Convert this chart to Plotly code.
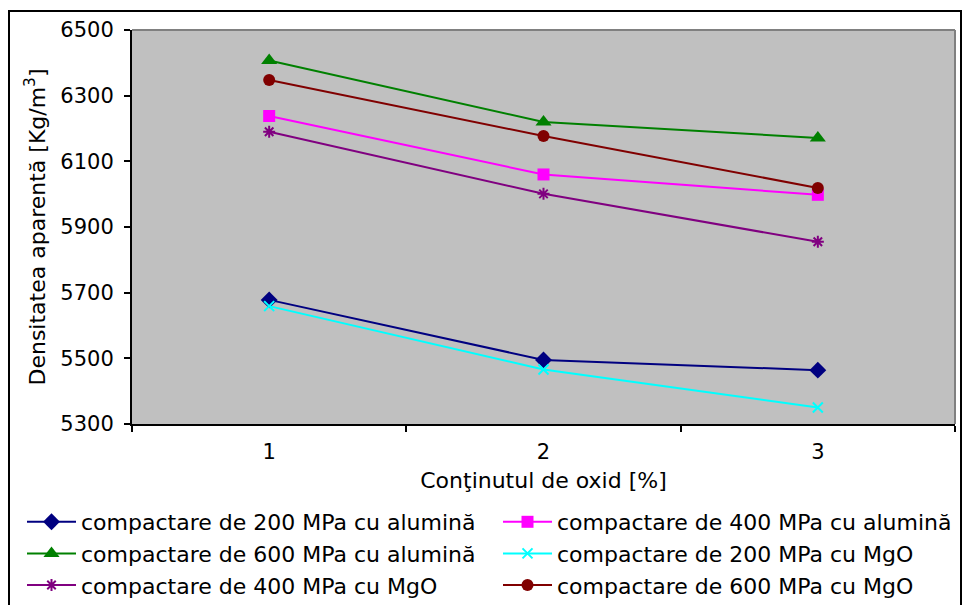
import plotly.graph_objects as go

categories = ["1", "2", "3"]
series_names = [
    "compactare de 200 MPa cu alumină",
    "compactare de 400 MPa cu alumină",
    "compactare de 600 MPa cu alumină",
    "compactare de 200 MPa cu MgO",
    "compactare de 400 MPa cu MgO",
    "compactare de 600 MPa cu MgO",
]
al_200 = [5678, 5495, 5464]
al_400 = [6238, 6060, 5998]
al_600 = [6407, 6220, 6171]
mgo_200 = [5659, 5466, 5350]
mgo_400 = [6190, 6001, 5855]
mgo_600 = [6348, 6177, 6019]
y_ticks = [5300, 5500, 5700, 5900, 6100, 6300, 6500]

values = [al_200, al_400, al_600, mgo_200, mgo_400, mgo_600]
colors = ["#000080", "#FF00FF", "#008000", "#00FFFF", "#800080", "#800000"]
symbols = ["diamond", "square", "triangle-up", "x-thin-open", "asterisk-open", "circle"]
sizes = [13, 12, 14, 10, 10, 12]

FONT = "DejaVu Sans"
FS_TICK = 21
FS_TEXT = 22
fig = go.Figure()
for name, vals, c, s, sz in zip(series_names, values, colors, symbols, sizes):
    marker = dict(symbol=s, size=sz, color=c)
    if s.endswith("open"):
        marker["line"] = dict(color=c, width=2)
    fig.add_trace(go.Scatter(x=categories, y=vals, name=name, mode="lines+markers",
                             line=dict(color=c, width=2), marker=marker))

L, R, T, B = 132, 8, 30, 181
W, H = 963, 605
pw, ph = W - L - R, H - T - B

def px(x):
    return (x - L) / pw

def py(y):
    return (H - B - y) / ph

fig.update_layout(
    width=W, height=H,
    margin=dict(l=L, r=R, t=T, b=B, autoexpand=False),
    paper_bgcolor="white",
    plot_bgcolor="#C0C0C0",
    font=dict(family=FONT, size=FS_TICK, color="black"),
    showlegend=True,
    legend=dict(orientation="h", x=px(22), y=py(501), xanchor="left", yanchor="top",
                itemwidth=49, entrywidth=412, entrywidthmode="pixels", tracegroupgap=0,
                font=dict(family=FONT, size=FS_TEXT), bgcolor="rgba(0,0,0,0)"),
    xaxis=dict(type="category", range=[-0.5, 2.5], tickson="boundaries", ticks="outside",
               ticklen=6, tickwidth=2, tickcolor="black", showline=True, linecolor="black",
               linewidth=2, showgrid=False, zeroline=False, ticklabelstandoff=8,
               tickfont=dict(family=FONT, size=FS_TICK),
               title=dict(text="Conţinutul de oxid [%]", standoff=9,
                          font=dict(family=FONT, size=FS_TEXT))),
    yaxis=dict(range=[5300, 6500], tickvals=y_ticks, ticks="outside", ticklen=6,
               tickwidth=2, tickcolor="black", showline=True, linecolor="black",
               linewidth=2, showgrid=False, zeroline=False, ticklabelstandoff=6,
               tickfont=dict(family=FONT, size=FS_TICK),
               title=dict(text="Densitatea aparentă [Kg/m<sup>3</sup>]", standoff=9,
                          font=dict(family=FONT, size=FS_TEXT))),
)

# gray top/right border of plot area
fig.add_shape(type="line", xref="paper", yref="paper", x0=0, x1=1, y0=1, y1=1,
              line=dict(color="#808080", width=2))
fig.add_shape(type="line", xref="paper", yref="paper", x0=1, x1=1, y0=0, y1=1,
              line=dict(color="#808080", width=2))
# outer chart border
fig.add_shape(type="rect", xref="paper", yref="paper",
              x0=px(9), x1=px(961), y0=py(612), y1=py(11),
              line=dict(color="black", width=2), fillcolor="rgba(0,0,0,0)", layer="above")

fig.write_html("out.html")
